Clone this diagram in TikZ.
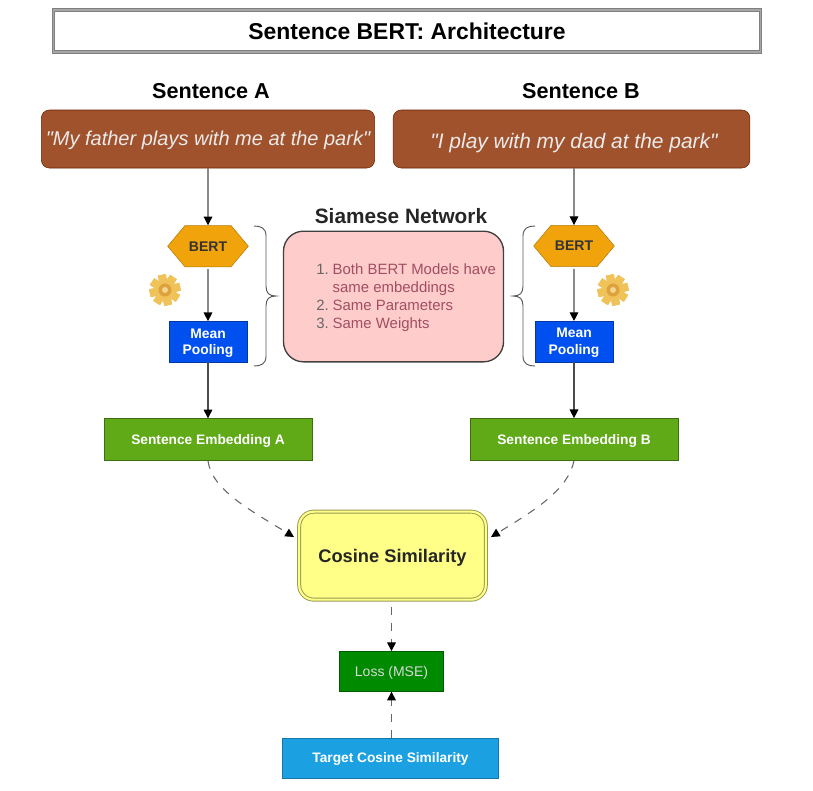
\documentclass[tikz,border=0pt]{standalone}
\usepackage{fontspec}
\setmainfont{Liberation Sans}[Ligatures=TeXOff]
\usetikzlibrary{shapes.symbols, arrows.meta, positioning}
\definecolor{sbrown}{HTML}{A0522D}
\definecolor{sbrownline}{HTML}{6D1F00}
\definecolor{sorange}{HTML}{F0A30A}
\definecolor{sblue}{HTML}{0050EF}
\definecolor{sgreen}{HTML}{60A917}
\definecolor{sdgreen}{HTML}{008A00}
\definecolor{ssky}{HTML}{1BA1E2}
\definecolor{spink}{HTML}{FFCCCC}
\definecolor{syellow}{HTML}{FFFF88}
\definecolor{swine}{HTML}{A04F62}
\definecolor{sgold}{HTML}{F0C25A}
\definecolor{sgoldin}{HTML}{DDA23E}
\tikzset{
    sentbox/.style={draw=sbrownline, rounded corners=6pt, fill=sbrown, text=white!92!black, minimum height=43.5pt, text depth=0pt, font=\fontsize{15}{18}\selectfont\itshape},
    headtext/.style={font=\fontsize{16.2}{19}\selectfont\bfseries},
    berthex/.style={signal, signal to=west and east, signal pointer angle=100, draw=sorange!75!black, fill=sorange, minimum width=60.5pt, minimum height=31pt, inner sep=0pt, font=\fontsize{10.5}{12}\selectfont\bfseries, text=black!80},
    poolbox/.style={draw=sblue!70!black, fill=sblue, text=white, minimum width=58.5pt, minimum height=30.5pt, inner sep=0pt, align=center, text depth=0pt, font=\fontsize{10.4}{12.5}\selectfont\bfseries},
    embedbox/.style={draw=sgreen!65!black, fill=sgreen, text=white, minimum width=156pt, minimum height=31.5pt, text depth=0pt, font=\fontsize{10.3}{12}\selectfont\bfseries},
    solidarrow/.style={-{Triangle[length=6.5pt, width=6.5pt, color=black]}, black!70, line width=0.8pt},
    dasharrow/.style={-{Triangle[length=6.5pt, width=6.5pt, color=black]}, black!60, line width=0.8pt, dash pattern=on 6pt off 6pt},
    pics/sidebrace/.style={code={
        \draw[black!65, line width=0.7pt] (0,0) .. controls (7,0) and (12,2) .. (12,10) -- (12,60)
            .. controls (12,67) and (15,70) .. (22,70) .. controls (15,70) and (12,73) .. (12,80)
            -- (12,130) .. controls (12,138) and (7,140) .. (0,140);
    }},
    pics/gearicon/.style={code={
        \foreach \a in {0,45,...,315}
            \fill[rotate=\a+12, sgold] (-4,-15.5) rectangle (4,15.5);
        \fill[sgold] (0,0) circle[radius=11.5];
        \fill[sgoldin] (0,0) circle[radius=6.5];
        \fill[sgold!70!white] (0,0) circle[radius=3];
    }}
}
\begin{document}
\begin{tikzpicture}[x=0.75pt, y=-0.75pt]
    \useasboundingbox (0,0) rectangle (813,790);

    \node[draw=black!50, double=black!35, double distance=1pt, line width=0.8pt, fill=white, minimum width=530pt, minimum height=31.5pt, font=\fontsize{17.2}{20}\selectfont\bfseries] (title) at (407,31) {Sentence BERT: Architecture};

    \node[headtext] (heada) at (211,91) {Sentence A};
    \node[headtext] (headb) at (581,91) {Sentence B};
    \node[sentbox, minimum width=248.5pt] (boxa) at (208,139) {\raisebox{0.7pt}{"My father plays with me at the park"}};
    \node[sentbox, minimum width=267.5pt] (boxb) at (571.5,139) {\hspace*{3.75pt}\raisebox{-2.2pt}{\fontsize{15.7}{18}\selectfont "I play with my dad at the park"}};

    \node[berthex, below=42.75pt of boxa] (berta) {BERT};
    \node[berthex] (bertb) at (574,246) {BERT};
    \node[poolbox, below=40.5pt of berta] (poola) {Mean\\Pooling};
    \node[poolbox, below=40.5pt of bertb] (poolb) {Mean\\Pooling};
    \node[embedbox, below=42pt of poola] (embeda) {Sentence Embedding A};
    \node[embedbox, below=42pt of poolb] (embedb) {Sentence Embedding B};

    \node[draw=black!75, line width=1pt, rounded corners=15pt, fill=spink, minimum width=165pt, minimum height=98pt, inner sep=0pt] (siamese) at (393.5,296.5) {};
    \node[font=\fontsize{11.2}{13.5}\selectfont, text=black!60, inner sep=0pt, anchor=west] (points) at (316,298) {%
        \begin{tabular}{@{}r@{\hspace{3pt}}l@{}}
            1. & \textcolor{swine}{Both BERT Models have}\\
               & \textcolor{swine}{same embeddings}\\
            2. & \textcolor{swine}{Same Parameters}\\
            3. & \textcolor{swine}{Same Weights}
        \end{tabular}};
    \node[font=\fontsize{15.6}{18}\selectfont\bfseries, text=black!85] (siamtitle) at (401,216) {Siamese Network};

    \node[draw=syellow!60!black, double=syellow, double distance=1.6pt, line width=0.7pt, rounded corners=11pt, fill=syellow, minimum width=140pt, minimum height=66pt, text depth=0pt, font=\fontsize{13.7}{16}\selectfont\bfseries, text=black!85, below=111.5pt of siamese, xshift=-0.75pt] (cosine) {Cosine Similarity};
    \node[draw=sdgreen!65!black, fill=sdgreen, text=white!85!black, minimum width=78pt, minimum height=30pt, text depth=0pt, font=\fontsize{10.5}{12}\selectfont, below=38.25pt of cosine, xshift=-0.75pt] (loss) {Loss (MSE)};
    \node[draw=ssky!75!black, fill=ssky, text=white, minimum width=162pt, minimum height=30pt, text depth=0pt, font=\fontsize{10.3}{12}\selectfont\bfseries, below=34.5pt of loss, xshift=-0.75pt] (target) {Target Cosine Similarity};

    % brackets either side of the pink box
    \pic at (254,226) {sidebrace};
    \pic[xscale=-1] at (535,226) {sidebrace};

    \pic at (165,290) {gearicon};
    \pic at (613,290) {gearicon};

    \draw[solidarrow] (boxa) -- (berta);
    \draw[solidarrow] (boxb.south -| bertb) -- (bertb);
    \draw[solidarrow, shorten <=1.5pt] (berta) -- (poola);
    \draw[solidarrow, shorten <=1.5pt] (bertb) -- (poolb);
    \draw[solidarrow] (poola) -- (embeda);
    \draw[solidarrow] (poolb) -- (embedb);

    \coordinate (cosl) at (294,537);
    \coordinate (cosr) at (491,537);
    \draw[dasharrow] (embeda.south) .. controls (212,490) and (250,510) .. (cosl);
    \draw[dasharrow] (embedb.south) .. controls (568,490) and (535,510) .. (cosr);
    \draw[dasharrow, shorten <=5pt] (cosine.south -| loss) -- (loss);
    \draw[dasharrow] (target.north -| loss) -- (loss);
\end{tikzpicture}
\end{document}
